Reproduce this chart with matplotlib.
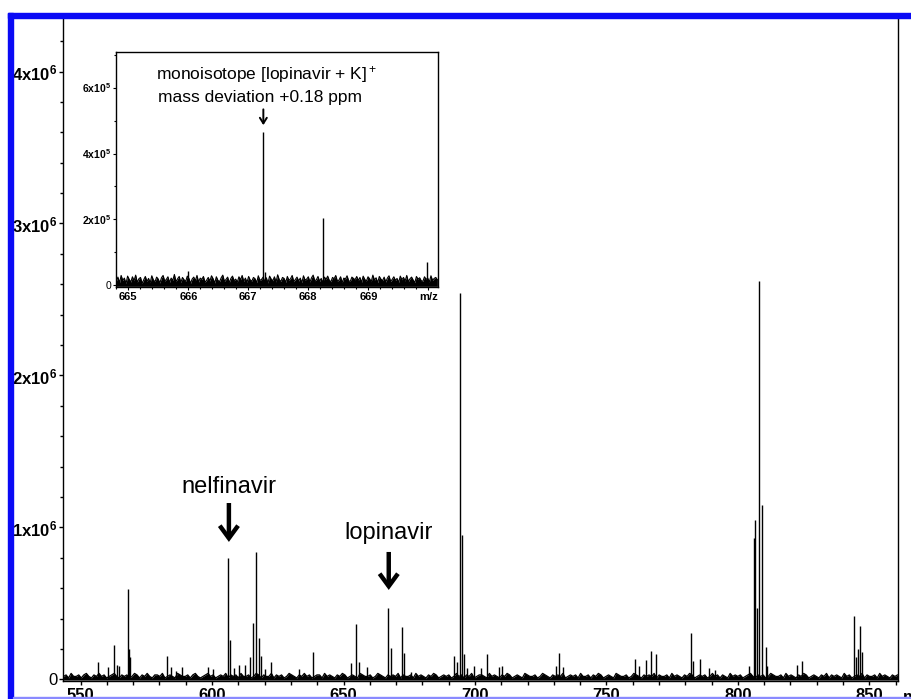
import matplotlib
matplotlib.use('Agg')
import matplotlib.pyplot as plt
import numpy as np
from matplotlib.patches import Rectangle, FancyArrowPatch
from matplotlib.ticker import MultipleLocator, FixedLocator

plt.rcParams['font.family'] = ['Liberation Sans', 'DejaVu Sans']
plt.rcParams['mathtext.fontset'] = 'custom'
plt.rcParams['mathtext.rm'] = 'Liberation Sans'
plt.rcParams['mathtext.bf'] = 'Liberation Sans:bold'
plt.rcParams['mathtext.it'] = 'Liberation Sans:italic'

# ---------------- data ----------------
peak_mz = [556.5, 560.3, 562.8, 563.7, 564.6, 567.9, 568.5, 568.9, 582.7, 584.3,
           586.1, 588.4, 598.4, 600.4, 605.9, 606.8, 608.4, 610.1, 612.7, 614.5,
           615.6, 616.8, 617.9, 618.8, 620.0, 622.6, 633.1, 638.4, 652.7, 654.8,
           655.9, 659.1, 667.1, 668.2, 672.1, 673.0, 675.5, 692.2, 693.0, 694.2,
           695.0, 695.9, 697.0, 699.7, 702.2, 704.4, 709.0, 710.1, 731.0, 732.1,
           733.3, 760.9, 762.4, 764.9, 767.1, 769.0, 782.1, 783.1, 785.5, 789.2,
           791.2, 804.2, 806.0, 806.6, 807.3, 808.2, 809.1, 810.6, 811.2, 822.5,
           824.4, 844.3, 844.9, 845.5, 846.4, 847.3]
peak_int_1e6 = [0.117, 0.084, 0.225, 0.095, 0.089, 0.595, 0.200, 0.148, 0.155, 0.084,
                0.058, 0.080, 0.080, 0.067, 0.797, 0.260, 0.075, 0.095, 0.095, 0.146,
                0.370, 0.840, 0.270, 0.155, 0.070, 0.117, 0.067, 0.183, 0.107, 0.363,
                0.117, 0.084, 0.468, 0.205, 0.347, 0.172, 0.050, 0.155, 0.117, 2.540,
                0.950, 0.165, 0.075, 0.090, 0.075, 0.165, 0.080, 0.090, 0.090, 0.173,
                0.085, 0.133, 0.090, 0.125, 0.187, 0.168, 0.304, 0.120, 0.133, 0.075,
                0.065, 0.090, 0.930, 1.050, 0.470, 2.620, 1.150, 0.216, 0.090, 0.095,
                0.120, 0.418, 0.150, 0.200, 0.352, 0.180]

# baseline noise of the main spectrum (upper envelope, units of 1e4 counts)
main_noise_1e4 = [2, 3, 1, 4, 2, 2, 3, 1, 3, 4, 2, 1, 3, 2, 4, 2, 3, 1, 2, 3, 4, 2, 1, 3, 2, 3, 1, 2, 4, 3,
                  1, 3, 2, 4, 2, 1, 3, 3, 2, 4, 1, 2, 3, 2, 1, 4, 3, 2, 2, 3, 1, 3, 4, 2, 1, 2, 3, 4, 2, 3,
                  1, 2, 3, 2, 4, 1, 3, 2, 3, 1, 4, 2, 2, 3, 1, 2, 4, 3, 1, 3, 2, 2, 4, 1, 3, 2, 3, 1, 2, 4,
                  3, 2, 1, 3, 2, 4, 2, 3, 1, 2, 3, 3, 1, 4, 2, 3, 2, 1, 3, 2, 4, 3, 1, 2, 3, 2, 1, 4, 3, 2,
                  2, 3, 1, 2, 4, 3, 2, 1, 3, 2, 3, 2, 4, 1, 3, 2, 2, 3, 1, 4, 2, 3, 2, 1, 3, 2, 4, 3, 1, 2,
                  3, 2, 3, 1, 2, 4, 2, 3, 1, 3, 2, 4, 1, 2, 3, 3, 2, 1, 4, 2, 3, 2, 1, 3, 2, 4, 3, 1, 2, 3,
                  2, 1, 4, 3, 2, 2, 3, 1, 2, 4, 3, 2, 1, 3, 2, 3, 2, 4, 1, 2, 3, 2, 3, 1, 4, 2, 2, 3, 1, 3,
                  2, 4, 3, 1, 2, 3, 2, 1, 4, 3, 2, 2, 3, 1, 2, 4, 3, 2, 1, 3, 2, 3, 2, 4, 1, 3, 2, 2, 3, 1,
                  4, 2, 3, 2, 1, 3, 2, 4, 3, 1, 2, 3, 2, 3, 1, 2, 4, 2, 3, 1, 3, 2, 1, 4, 2, 3, 2, 3, 1, 2,
                  3, 4, 2, 1, 3, 2, 3, 1, 2, 4, 3, 2, 2, 3, 1, 4, 2, 3, 2, 1, 3, 2, 4, 3, 1, 2, 3, 2, 1, 3,
                  2, 4, 1, 3, 2, 3, 2, 1, 4, 2, 3, 1, 2, 3, 2, 4, 1, 3, 2, 2, 3, 1, 4, 2, 3, 2, 1, 3, 2, 3]
main_noise_floor = -0.4e4

inset_peak_mz = [665.99, 667.245, 667.27, 668.248, 669.97]
inset_peak_int = [4.5e4, 4.66e5, 4.0e4, 2.03e5, 7.0e4]

# baseline noise of the inset spectrum (upper envelope, units of 1e3 counts)
inset_noise_1e3 = [12, 25, 8, 30, 15, 22, 5, 28, 18, 10, 26, 14, 31, 9, 20, 24, 6, 17, 27, 12,
                   21, 8, 29, 16, 11, 25, 19, 7, 23, 30, 13, 18, 26, 9, 22, 15, 33, 11, 20, 27,
                   8, 24, 17, 12, 28, 21, 6, 19, 25, 14, 30, 10, 22, 18, 27, 9, 16, 24, 13, 29,
                   20, 7, 26, 15, 11, 23, 31, 12, 18, 25, 8, 21, 28, 14, 19, 10, 26, 17, 30, 12,
                   22, 9, 27, 16, 13, 24, 20, 8, 29, 15, 18, 25, 11, 23, 7, 28, 19, 14, 26, 10,
                   32, 17, 12, 24, 21, 9, 27, 15, 20, 30, 11, 18, 25, 13, 22, 8, 29, 16, 19, 26,
                   10, 23, 31, 14, 17, 27, 12, 21, 9, 25, 18, 28, 15, 11, 24, 20, 30, 13, 16, 26,
                   8, 22, 19, 29, 14, 12, 25, 21, 17, 27, 15, 24, 9, 28, 18, 13, 26, 20, 11, 31,
                   16, 23, 8, 27, 19, 14, 25, 10, 22, 29, 12, 18, 26, 15, 21, 9, 28, 17, 24, 13,
                   30, 11, 20, 25, 16, 8, 27, 19, 23, 14, 12, 26, 18, 22, 10, 29, 15, 21, 24, 17]
inset_noise_floor = -3e3

main_xticks = [550, 600, 650, 700, 750, 800, 850]
main_yticks = [0, 1e6, 2e6, 3e6, 4e6]
main_ytick_labels = ['0', r'$\mathbf{1x10^6}$', r'$\mathbf{2x10^6}$',
                     r'$\mathbf{3x10^6}$', r'$\mathbf{4x10^6}$']
inset_xticks = [665, 666, 667, 668, 669, 670]
inset_xtick_labels = ['665', '666', '667', '668', '669', 'm/z']
inset_yticks = [0, 2e5, 4e5, 6e5]
inset_ytick_labels = ['0', r'$\mathbf{2x10^5}$', r'$\mathbf{4x10^5}$', r'$\mathbf{6x10^5}$']

# ---------------- figure ----------------
W, H = 912, 699
fig = plt.figure(figsize=(W / 100, H / 100), dpi=100)

def fbox(x0, y0, x1, y1):
    return [x0 / W, 1 - y1 / H, (x1 - x0) / W, (y1 - y0) / H]

ax = fig.add_axes(fbox(63, 18, 898, 681))
ax.set_xlim(543.3, 860.9)
ax.set_ylim(-0.01e6, 4.352e6)

# noise band
xn = np.linspace(543.5, 860.7, len(main_noise_1e4))
yn = np.array(main_noise_1e4) * 1e4
ax.fill_between(xn, main_noise_floor, yn, color='black', lw=0, zorder=2)
ax.plot(xn, yn, color='black', lw=0.9, zorder=2)
# peaks
ax.vlines(peak_mz, 0, np.array(peak_int_1e6) * 1e6, color='black', lw=1.0, zorder=3)

ax.spines['top'].set_visible(False)
for s in ['left', 'right', 'bottom']:
    ax.spines[s].set_linewidth(1.0)

ax.xaxis.set_major_locator(FixedLocator(main_xticks))
ax.xaxis.set_minor_locator(MultipleLocator(10))
ax.yaxis.set_major_locator(FixedLocator(main_yticks))
ax.yaxis.set_minor_locator(MultipleLocator(0.2e6))
ax.set_xticklabels([str(t) for t in main_xticks], fontsize=12, fontweight='bold')
ax.set_yticklabels(main_ytick_labels, fontsize=12)
ax.tick_params(axis='both', which='both', direction='out', width=1.0)
ax.tick_params(axis='x', which='major', length=3, pad=2)
ax.tick_params(axis='x', which='minor', length=3)
ax.tick_params(axis='y', which='major', length=3, pad=1)
ax.tick_params(axis='y', which='minor', length=2.5)
ax.annotate('m/z', xy=(1.0, 0), xycoords='axes fraction', xytext=(5, -9),
            textcoords='offset pixels', ha='left', va='top', fontsize=12,
            fontweight='bold')

# drug labels and arrows
ax.text(606.4, 1.228e6, 'nelfinavir', ha='center', va='baseline', fontsize=17)
ax.text(667.2, 0.923e6, 'lopinavir', ha='center', va='baseline', fontsize=17)
for xa, y0, y1 in [(606.4, 1.161e6, 0.905e6), (667.2, 0.839e6, 0.589e6)]:
    ar = FancyArrowPatch((xa, y0), (xa, y1), arrowstyle='->,head_length=0.45,head_width=0.33',
                         mutation_scale=20, lw=3.2, color='black', shrinkA=0, shrinkB=0,
                         joinstyle='miter', capstyle='butt')
    ax.add_patch(ar)

# ---------------- inset ----------------
ins = fig.add_axes(fbox(116, 52, 438, 287))
ins.set_xlim(664.795, 670.16)
ins.set_ylim(-5e3, 7.08e5)
xi = np.linspace(664.8, 670.15, len(inset_noise_1e3))
yi = np.array(inset_noise_1e3) * 1e3
ins.fill_between(xi, inset_noise_floor, yi, color='black', lw=0, zorder=2)
ins.plot(xi, yi, color='black', lw=0.8, zorder=2)
ins.vlines(inset_peak_mz, 0, inset_peak_int, color='black', lw=1.0, zorder=3)
for s in ins.spines.values():
    s.set_linewidth(1.0)
ins.xaxis.set_major_locator(FixedLocator(inset_xticks))
ins.xaxis.set_minor_locator(MultipleLocator(0.2))
ins.yaxis.set_major_locator(FixedLocator(inset_yticks))
ins.yaxis.set_minor_locator(MultipleLocator(1e5))
ins.set_xticklabels(inset_xtick_labels, fontsize=8, fontweight='bold')
ins.set_yticklabels(inset_ytick_labels, fontsize=7.5)
ins.tick_params(axis='both', which='both', direction='out', width=0.8)
ins.tick_params(axis='x', which='major', length=2, pad=1.5)
ins.tick_params(axis='x', which='minor', length=1.5)
ins.tick_params(axis='y', which='major', length=2, pad=1.5)
ins.tick_params(axis='y', which='minor', length=1.5)
ins.text(667.3, 6.41e5, 'monoisotope [lopinavir + K]$^+$', ha='center', va='center', fontsize=12.5)
ins.text(667.2, 5.71e5, 'mass deviation +0.18 ppm', ha='center', va='center', fontsize=12.5)
ins.add_patch(FancyArrowPatch((667.25, 5.34e5), (667.25, 4.86e5),
                              arrowstyle='->,head_length=0.4,head_width=0.25',
                              mutation_scale=10, lw=1.4, color='black',
                              shrinkA=0, shrinkB=0))

# ---------------- blue frame ----------------
fig.add_artist(Rectangle((8 / W, 1 - 18 / H), (W - 8) / W, 5 / H,
                         transform=fig.transFigure, color='#0a0af5', zorder=20))
fig.add_artist(Rectangle((8 / W, 0), 5 / W, (H - 13) / H,
                         transform=fig.transFigure, color='#0a0af5', zorder=20))
fig.add_artist(Rectangle((13 / W, 1 / H), (W - 13) / W, 1.5 / H,
                         transform=fig.transFigure, color='#8a8aff', zorder=20))

fig.savefig('out.png', dpi=100)
